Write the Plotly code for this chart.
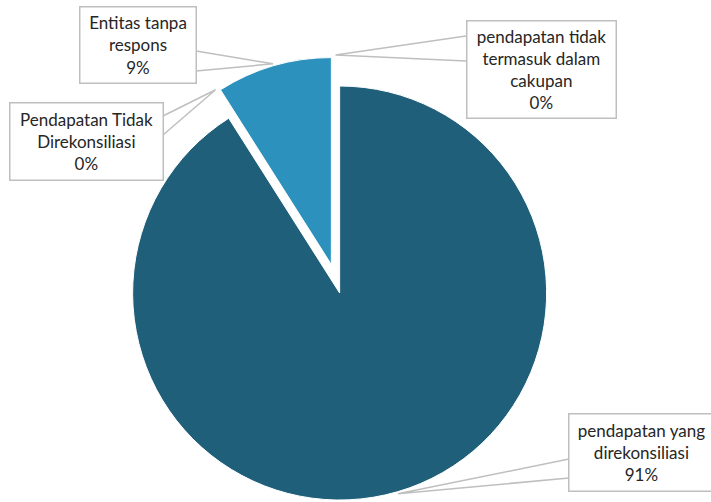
import math
import textwrap
import plotly.graph_objects as go

# Data (clockwise from 12 o'clock)
labels = [
    "pendapatan yang direkonsiliasi",
    "Pendapatan Tidak Direkonsiliasi",
    "Entitas tanpa respons",
    "pendapatan tidak termasuk dalam cakupan",
]
values = [91, 0, 9, 0]
colors = ["#1F5F7A", "#1F5F7A", "#2C92BD", "#2C92BD"]

# Figure geometry (pixels)
W, H = 711, 502
PULL = 0.0715
CX, CY = 335.5, 278.8          # pie centre
HALF = 221.8                    # half size of the square domain
R = HALF / (1 + PULL)           # radius plotly will use

dom_x = [(CX - HALF) / W, (CX + HALF) / W]
dom_y = [1 - (CY + HALF) / H, 1 - (CY - HALF) / H]

# Callout boxes: centre x, centre y, width, height, leader anchor points on the box edge
boxes = [
    dict(cx=641, cy=452, w=146, h=78, a1=(569, 459), a2=(569, 478)),
    dict(cx=86, cy=142, w=154, h=78, a1=(163, 116), a2=(163, 135)),
    dict(cx=137.5, cy=44.5, w=117, h=77, a1=(196, 51), a2=(196, 71)),
    dict(cx=541, cy=69, w=150, h=98, a1=(466, 36), a2=(466, 61)),
]


def px(x):
    return x / W


def py(y):
    return 1 - y / H


fig = go.Figure(
    go.Pie(
        labels=labels,
        values=values,
        sort=False,
        direction="clockwise",
        rotation=0,
        pull=[PULL] * len(values),
        marker=dict(colors=colors, line=dict(color="white", width=1)),
        textinfo="none",
        hoverinfo="label+percent",
        domain=dict(x=dom_x, y=dom_y),
        showlegend=False,
    )
)

total = sum(values)
cum = 0.0
annotations = []
shapes = []
for lab, val, box in zip(labels, values, boxes):
    frac = val / total
    theta = 2 * math.pi * (cum + frac / 2)
    cum += frac
    dx, dy = math.sin(theta), -math.cos(theta)
    dist = (PULL + 1.01) * R
    tx, ty = CX + dx * dist, CY + dy * dist

    (x1, y1), (x2, y2) = box["a1"], box["a2"]
    shapes.append(
        dict(
            type="path",
            xref="paper",
            yref="paper",
            path=f"M {px(x1)},{py(y1)} L {px(tx)},{py(ty)} L {px(x2)},{py(y2)}",
            line=dict(color="#BFBFBF", width=1.5),
        )
    )

    text = "<br>".join(textwrap.wrap(lab, 16)) + f"<br>{round(frac * 100)}%"
    annotations.append(
        dict(
            x=px(box["cx"]),
            y=py(box["cy"]),
            xref="paper",
            yref="paper",
            xanchor="center",
            yanchor="middle",
            text=text,
            showarrow=False,
            align="center",
            valign="middle",
            width=box["w"] - 2,
            height=box["h"] - 2,
            borderpad=0,
            bordercolor="#BFBFBF",
            borderwidth=1.5,
            bgcolor="white",
            font=dict(family="Lato", size=17, color="#262626"),
        )
    )

fig.update_layout(
    width=W,
    height=H,
    margin=dict(l=0, r=0, t=0, b=0),
    paper_bgcolor="white",
    plot_bgcolor="white",
    shapes=shapes,
    annotations=annotations,
)

fig.write_html("out.html")
